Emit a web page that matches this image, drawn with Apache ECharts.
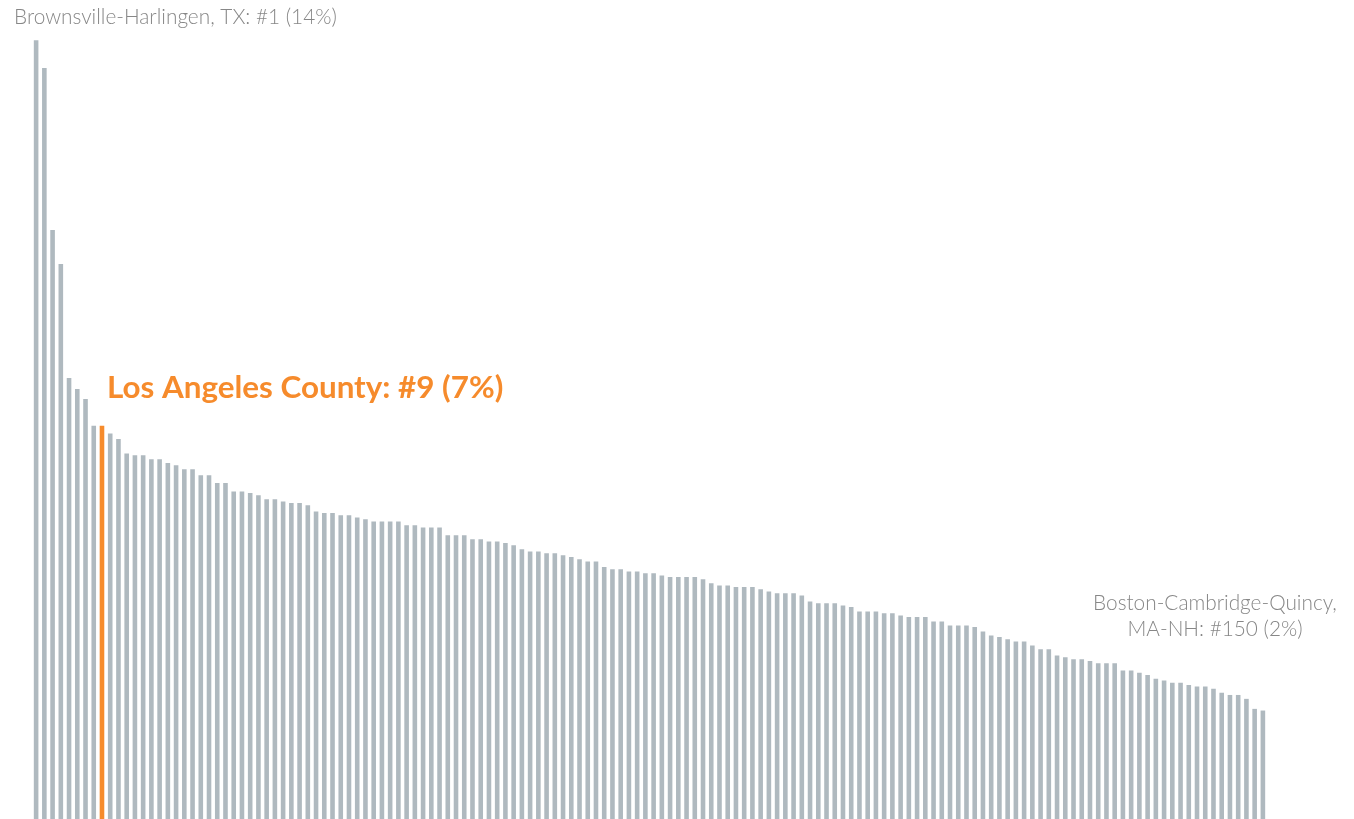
<!DOCTYPE html>
<html>
<head>
<meta charset="utf-8">
<title>Rank of metro areas</title>
<script src="https://cdn.jsdelivr.net/npm/echarts@6/dist/echarts.min.js"></script>
<style>
  html, body { margin: 0; padding: 0; background: #fff; }
  #main { width: 1354px; height: 819px; }
</style>
</head>
<body>
<div id="main"></div>
<script>
// share (%) for each of the 150 ranked metro areas
var ranks = [];
for (var r = 1; r <= 150; r++) ranks.push('#' + r);

var values = [
  14.00, 13.50, 10.59, 9.98, 7.93, 7.73, 7.55, 7.07, 7.07, 6.93,
  6.83, 6.57, 6.54, 6.54, 6.47, 6.47, 6.40, 6.36, 6.29, 6.29,
  6.18, 6.18, 6.04, 6.04, 5.89, 5.89, 5.86, 5.82, 5.75, 5.75,
  5.71, 5.68, 5.68, 5.64, 5.53, 5.50, 5.50, 5.46, 5.46, 5.42,
  5.39, 5.35, 5.35, 5.35, 5.35, 5.28, 5.28, 5.24, 5.24, 5.24,
  5.10, 5.10, 5.10, 5.03, 5.03, 4.99, 4.99, 4.96, 4.92, 4.85,
  4.81, 4.81, 4.78, 4.78, 4.74, 4.71, 4.67, 4.63, 4.63, 4.53,
  4.49, 4.49, 4.45, 4.45, 4.42, 4.42, 4.38, 4.35, 4.35, 4.35,
  4.35, 4.31, 4.24, 4.20, 4.20, 4.17, 4.17, 4.17, 4.13, 4.09,
  4.06, 4.06, 4.06, 4.02, 3.91, 3.88, 3.88, 3.88, 3.84, 3.81,
  3.73, 3.73, 3.73, 3.70, 3.70, 3.66, 3.63, 3.63, 3.63, 3.55,
  3.55, 3.48, 3.48, 3.48, 3.45, 3.37, 3.30, 3.27, 3.23, 3.19,
  3.19, 3.12, 3.05, 3.05, 2.94, 2.91, 2.87, 2.87, 2.84, 2.80,
  2.80, 2.80, 2.67, 2.67, 2.63, 2.59, 2.52, 2.49, 2.45, 2.45,
  2.41, 2.38, 2.38, 2.34, 2.27, 2.23, 2.23, 2.16, 1.98, 1.95
];

var highlightIndex = 8; // Los Angeles County
var labelTop = 'Brownsville-Harlingen, TX: #1 (14%)';
var labelHighlight = 'Los Angeles County: #9 (7%)';
var labelLast = 'Boston-Cambridge-Quincy,\nMA-NH: #150 (2%)';

var grey = '#afb9bf';
var orange = '#f68b2c';
var textGrey = '#878787';
var lightFont = '300 20.8px Lato, "Open Sans", sans-serif';

var chart = echarts.init(document.getElementById('main'));

var barData = values.map(function (v, i) {
  return {
    value: v,
    itemStyle: { color: i === highlightIndex ? orange : grey }
  };
});

var option = {
  animation: false,
  grid: { left: 32, width: 1235, top: 40.3, bottom: 0 },
  xAxis: {
    type: 'category',
    data: ranks,
    axisLine: { show: false },
    axisTick: { show: false },
    axisLabel: { show: false }
  },
  yAxis: {
    type: 'value',
    min: 0,
    max: 14,
    splitLine: { show: false },
    axisLine: { show: false },
    axisTick: { show: false },
    axisLabel: { show: false }
  },
  series: [{
    type: 'bar',
    data: barData,
    barWidth: 4.6
  }],
  graphic: [
    {
      type: 'text', x: 14, y: 17,
      style: { text: labelTop, fill: textGrey, font: lightFont, align: 'left', verticalAlign: 'middle' }
    },
    {
      type: 'text', x: 107, y: 388,
      style: { text: labelHighlight, fill: orange, font: 'bold 31.4px Lato, "Open Sans", sans-serif', align: 'left', verticalAlign: 'middle' }
    },
    {
      type: 'text', x: 1215, y: 616,
      style: { text: labelLast, fill: textGrey, font: lightFont, lineHeight: 26, align: 'center', verticalAlign: 'middle' }
    }
  ]
};

chart.setOption(option);
</script>
</body>
</html>
